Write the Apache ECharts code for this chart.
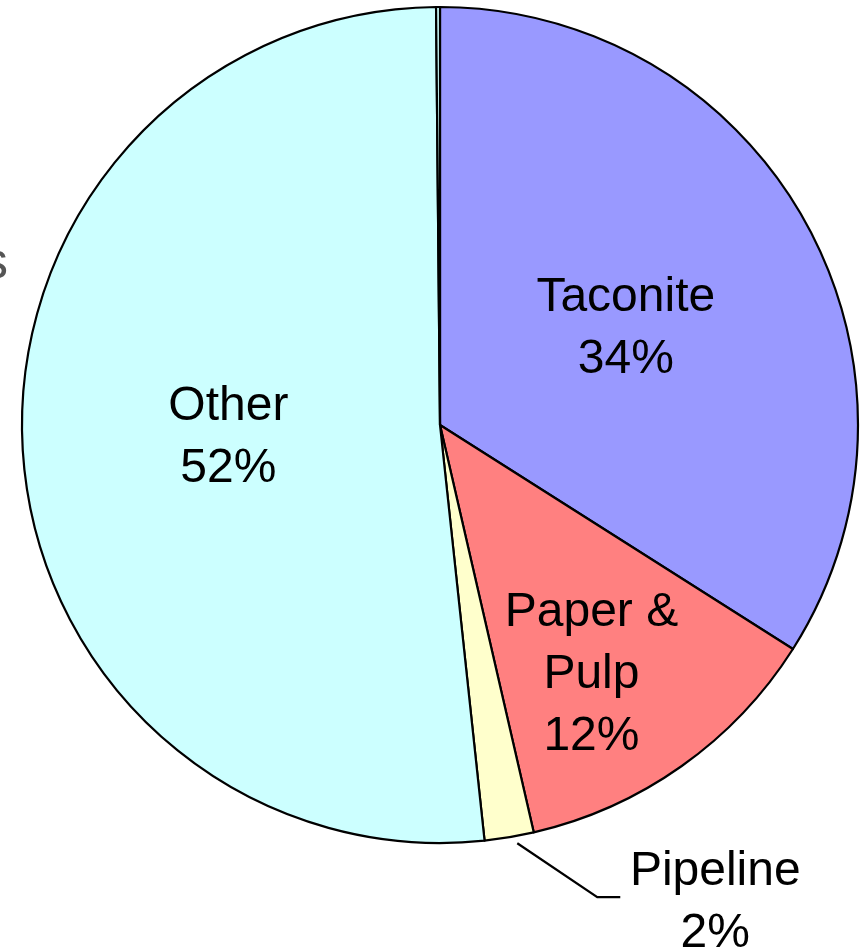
<!DOCTYPE html>
<html>
<head>
<meta charset="utf-8">
<script src="https://cdn.jsdelivr.net/npm/echarts@6/dist/echarts.min.js"></script>
<style>
html,body{margin:0;padding:0;background:#fff;}
#chart{width:863px;height:951px;}
</style>
</head>
<body>
<div id="chart"></div>
<script>
// Data
const categories = ['Taconite', 'Paper &\nPulp', 'Pipeline', 'Other', ''];
const values = [34, 12.4, 1.9, 51.55, 0.15];
const colors = ['#9999FF', '#FF8080', '#FFFFCC', '#CCFFFF', '#CCFFFF'];

const FONT = '"Liberation Sans", Arial, sans-serif';

const chart = echarts.init(document.getElementById('chart'), null, {renderer: 'canvas'});

const data = categories.map((c, i) => {
  const item = {name: c, value: values[i], itemStyle: {color: colors[i]}};
  if (i === 2) {
    item.label = {
      position: 'outside',
      formatter: '{a|{b}\n{d}%}',
      rich: {a: {width: 180, align: 'center', fontSize: 48, lineHeight: 62, color: '#000', fontFamily: FONT}}
    };
    item.labelLine = {show: true, length: 40, length2: 20, lineStyle: {color: '#000', width: 2.2}};
  }
  if (i === 4) {
    item.label = {show: false};
    item.labelLine = {show: false};
  }
  return item;
});

chart.setOption({
  animation: false,
  backgroundColor: '#ffffff',
  graphic: [{
    type: 'text',
    left: -18,
    top: 238,
    style: {text: 's', font: '52px ' + FONT, fill: '#555555'}
  }],
  series: [{
    type: 'pie',
    center: [440, 425],
    radius: 418,
    startAngle: 90,
    clockwise: true,
    percentPrecision: 0,
    avoidLabelOverlap: false,
    data: data,
    itemStyle: {borderColor: '#000', borderWidth: 2.2},
    label: {
      show: true,
      position: 'inside',
      formatter: '{b}\n{d}%',
      fontSize: 48,
      lineHeight: 62,
      color: '#000',
      fontFamily: FONT
    },
    labelLine: {lineStyle: {color: '#000', width: 2.2}},
    labelLayout: function (params) {
      if (params.dataIndex === 0) {
        return {dy: 6};
      }
      if (params.dataIndex === 1) {
        return {dx: 29, dy: 77};
      }
      if (params.dataIndex === 2 && params.labelLinePoints) {
        const p = params.labelLinePoints[0];
        const p0 = [p[0] + 8, p[1] + 6];
        const p1 = [p0[0] + 80, p0[1] + 54];
        const p2 = [p1[0] + 23, p1[1]];
        return {
          x: p2[0] + 5, y: p2[1] + 6,
          align: 'left', verticalAlign: 'middle',
          labelLinePoints: [p0, p1, p2]
        };
      }
      return {};
    },
    emphasis: {disabled: true}
  }]
});
</script>
</body>
</html>
